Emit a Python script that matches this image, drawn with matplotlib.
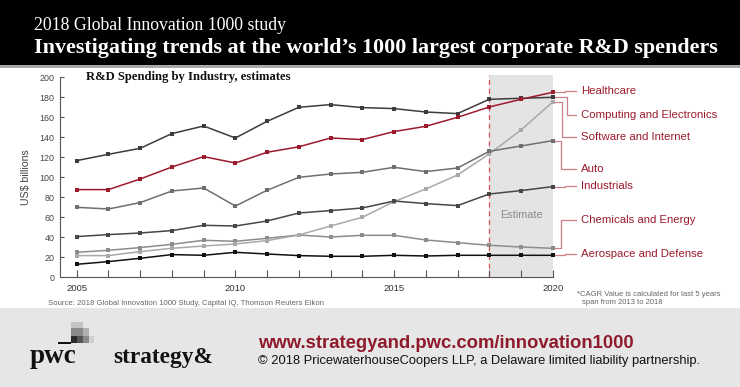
import matplotlib
matplotlib.use("Agg")
import matplotlib.pyplot as plt
from matplotlib.patches import Rectangle

# ---------------- data ----------------
years = list(range(2005, 2021))
healthcare = [87.7, 87.7, 98.3, 110.3, 120.7, 114.3, 125, 130.5, 139.3, 137.7, 145.7, 151, 160, 170.3, 178, 185]
computing = [116.7, 123, 129, 143.7, 151.3, 139.3, 156, 170, 172.7, 169.7, 168.7, 165.3, 163.7, 178, 179, 180]
software = [21.7, 21.7, 25.7, 29, 31.3, 33.3, 36.7, 42.3, 51.3, 60, 75.7, 88.3, 102.3, 123.3, 147.3, 175.3]
auto = [70, 68.3, 74.7, 86.3, 89.3, 71.3, 87, 100, 103.3, 105, 110, 105.7, 109.3, 126, 131.3, 136.7]
industrials = [40.7, 42.7, 44.3, 46.7, 52, 51.3, 56.3, 64.3, 66.7, 69.3, 76.3, 73.7, 71.7, 83.3, 86.7, 90.7]
chemicals = [25, 27, 29.7, 33, 37, 36, 39, 42.3, 40.3, 42, 42, 37.3, 34.7, 32, 30.3, 29]
aerospace = [13, 15.7, 19, 22.7, 22, 25, 23.3, 21.7, 21, 21, 22, 21.3, 22, 22, 22, 22]

series_names = ["Healthcare", "Computing and Electronics", "Software and Internet", "Auto",
                "Industrials", "Chemicals and Energy", "Aerospace and Defense"]
series_values = [healthcare, computing, software, auto, industrials, chemicals, aerospace]
series_colors = ["#9b1b2c", "#3c3c3c", "#a9a9a9", "#6f6f6f", "#474747", "#8c8c8c", "#111111"]
series_z = [7, 6, 3, 4, 5, 2, 6]

# layout of right-hand labels (data-unit y of each label, elbow x in years)
label_y = [186.3, 162.3, 140.6, 108.6, 91.3, 57.3, 23.0]
elbow_x = [2020.4, 2020.44, 2020.28, 2020.25, 2020.4, 2020.25, 2020.4]

estimate_start, estimate_end = 2018, 2020
xtick_labels = {2005: "2005", 2010: "2010", 2015: "2015", 2020: "2020"}
yticks = list(range(0, 201, 20))

SANS = ["Liberation Sans", "DejaVu Sans"]
SERIF = ["Liberation Serif", "DejaVu Serif"]
RED = "#9b1b2c"

W, H = 740, 387
fig = plt.figure(figsize=(W / 100, H / 100), dpi=100)
fig.patch.set_facecolor("white")


def fx(x):
    return x / W


def fy(y):
    return 1 - y / H


def frect(x0, y0, x1, y1, color):
    fig.patches.append(Rectangle((fx(x0), fy(y1)), fx(x1) - fx(x0), fy(y0) - fy(y1),
                                 transform=fig.transFigure, color=color, lw=0, zorder=0))


# header
frect(0, 0, W, 65, "black")
frect(0, 65, W, 68, "#a8a8a8")
fig.text(fx(34), fy(30), "2018 Global Innovation 1000 study", color="white",
         family=SERIF, fontsize=12.8, va="baseline", ha="left")
fig.text(fx(34), fy(52.7), "Investigating trends at the world\u2019s 1000 largest corporate R&D spenders",
         color="white", family=SERIF, fontweight="bold", fontsize=15.8, va="baseline", ha="left")

# footer
frect(0, 308, W, H, "#e6e6e6")

# axes
ax = fig.add_axes([fx(60), fy(277.3), fx(552.7) - fx(60), fy(77.3) - fy(277.3)])
ax.set_xlim(2005 - 16.7 / 31.73, 2020)
ax.set_ylim(0, 200)
for s in ["top", "right"]:
    ax.spines[s].set_visible(False)
for s in ["left", "bottom"]:
    ax.spines[s].set_color("#555555")
    ax.spines[s].set_linewidth(0.8)

ax.axvspan(estimate_start, estimate_end, ymin=0, ymax=1.0115, color="#e4e4e4",
           lw=0, zorder=0, clip_on=False)
ax.plot([estimate_start, estimate_start], [0, 202.3], ls=(0, (4, 3)), color="#e0505a",
        lw=0.9, zorder=1, clip_on=False)
ax.text((estimate_start + estimate_end) / 2, 62.3, "Estimate", color="#8a8a8a",
        family=SANS, fontsize=7.8, ha="center", va="center")

for name, vals, col, z in zip(series_names, series_values, series_colors, series_z):
    ax.plot(years, vals, color=col, lw=1.1, marker="s", markersize=3.0,
            markeredgewidth=0, zorder=z, clip_on=False)

# connectors and labels
for name, vals, ly, ex in zip(series_names, series_values, label_y, elbow_x):
    end = vals[-1]
    ax.plot([2020.07, ex, ex, 2020.75], [end, end, ly, ly], color="#cf7f87",
            lw=0.9, clip_on=False, zorder=1)
    ax.text(2020.89, ly, name, color=RED, family=SANS, fontsize=8.2,
            ha="left", va="center")

ax.set_xticks(years)
ax.set_xticklabels([xtick_labels.get(y, "") for y in years])
ax.set_yticks(yticks)
ax.tick_params(axis="x", direction="in", length=5, width=0.8, color="#555555",
               labelsize=6.8, pad=4.5, labelcolor="#333333")
ax.tick_params(axis="y", direction="in", length=3, width=0.8, color="#555555",
               labelsize=6.4, pad=4, labelcolor="#444444")
for lab in ax.get_xticklabels() + ax.get_yticklabels():
    lab.set_family(SANS)
ax.set_ylabel("US$ billions", family=SANS, fontsize=7.6, color="#444444", labelpad=6)
ax.patch.set_alpha(0)

fig.text(fx(86), fy(80), "R&D Spending by Industry, estimates", family=SERIF,
         fontweight="bold", fontsize=9.05, color="#111111", va="baseline", ha="left")

# notes
fig.text(fx(48), fy(303.3), "Source: 2018 Global Innovation 1000 Study, Capital IQ, Thomson Reuters Eikon",
         family=SANS, fontsize=5.6, color="#666666", va="center", ha="left")
fig.text(fx(577), fy(294), "*CAGR Value is calculated for last 5 years",
         family=SANS, fontsize=5.5, color="#666666", va="center", ha="left")
fig.text(fx(581.5), fy(302.7), "span from 2013 to 2018",
         family=SANS, fontsize=5.5, color="#666666", va="center", ha="left")

# footer texts
fig.text(fx(258), fy(348), "www.strategyand.pwc.com/innovation1000", family=SANS,
         fontweight="bold", fontsize=13.3, color="#8e1a2b", va="baseline", ha="left")
fig.text(fx(258), fy(364), "\u00a9 2018 PricewaterhouseCoopers LLP, a Delaware limited liability partnership.",
         family=SANS, fontsize=9.3, color="#111111", va="baseline", ha="left")

# logo
fig.text(fx(30), fy(363), "pwc", family=SERIF, fontweight="bold", fontsize=19.5,
         color="#111111", va="baseline", ha="left")
fig.text(fx(113), fy(363), "strategy&", family=SERIF, fontweight="bold", fontsize=16.8,
         color="#111111", va="baseline", ha="left")
frect(71, 322, 83, 328, "#c4c4c4")
frect(71, 328, 83, 336, "#8a8a8a")
frect(83, 328, 89, 336, "#b0b0b0")
frect(71, 336, 77, 343, "#2a2a2a")
frect(77, 336, 83, 343, "#555555")
frect(83, 336, 89, 343, "#8a8a8a")
frect(89, 336, 94, 343, "#cfcfcf")
frect(58, 342, 71, 344, "#111111")

fig.savefig("out.png", dpi=100)
